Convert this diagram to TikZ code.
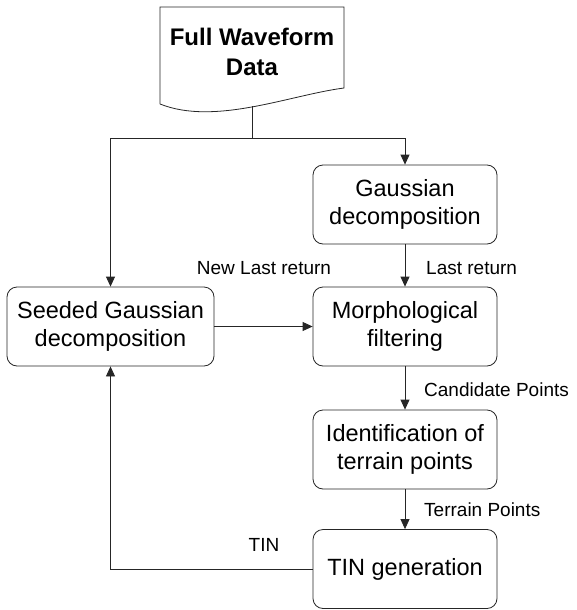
\documentclass[tikz,border=0pt]{standalone}
\usepackage{fontspec}
\setmainfont{Liberation Sans}
\usetikzlibrary{calc,arrows.meta}

\tikzset{
  proc/.style={draw=black!85, line width=.8pt, rounded corners=10pt,
    minimum width=184pt, minimum height=79pt, inner sep=0pt, align=center,
    font=\fontsize{23.5}{28}\selectfont},
  lbl/.style={font=\fontsize{19}{22}\selectfont, inner sep=0pt},
  flow/.style={draw=black!85, line width=.8pt, -{Triangle[length=10pt,width=9pt]}}
}

\begin{document}
\begin{tikzpicture}[x=1pt,y=-1pt]
    \useasboundingbox (0,0) rectangle (576,610);
    \begin{scope}[shift={(0,0)}]
      % the data sheet
      \draw[black!85, line width=.8pt] (160,104) -- (160,7) -- (344,7) -- (344,88)
        .. controls (290,95) and (215,126) .. (160,104);
      \node[font=\bfseries\fontsize{24}{30}\selectfont, align=center] (fwd) at (252,52) {Full Waveform\\Data};
      \coordinate (fwdout) at (252,106);
      \coordinate (split) at (252,138);

      \node[proc] (gauss) at (405,204.5) {Gaussian\\decomposition};
      \node[proc, minimum width=207pt] (seed) at (110.5,326.5) {Seeded Gaussian\\decomposition};
      \node[proc] (morph) at (405,326.5) {Morphological\\filtering};
      \node[proc] (ident) at (405,449.5) {Identification of\\terrain points};
      \node[proc] (tin) at (405,569) {TIN generation};

      \draw[black!85, line width=.8pt] (fwdout) -- (split);
      \draw[flow] (split) -| (gauss.north);
      \draw[flow] (split) -| (seed.north);
      \draw[flow] (gauss) -- (morph);
      \draw[flow] (seed) -- (morph);
      \draw[flow] (morph) -- (ident);
      \draw[flow] (ident) -- (tin);
      \draw[flow] (tin.west) -| (seed.south);

      \node[lbl] (newlast) at (264,268) {New Last return};
      \node[lbl, anchor=west] (last) at (426,268) {Last return};
      \node[lbl, anchor=west] (cand) at (424,390) {Candidate Points};
      \node[lbl, anchor=west] (terr) at (424,510) {Terrain Points};
      \node[lbl] (tinlbl) at (264,545) {TIN};
    \end{scope}
  \end{tikzpicture}
\end{document}
